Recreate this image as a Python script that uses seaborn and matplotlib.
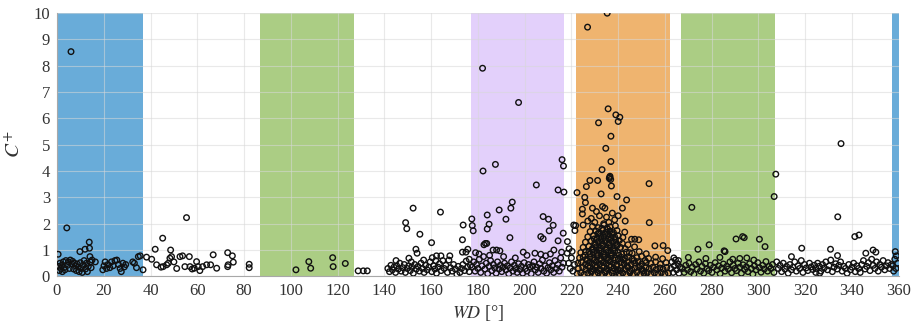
import pandas as pd
import matplotlib
import matplotlib.pyplot as plt
import seaborn as sns

matplotlib.use("Agg")

# wind-direction sectors (deg) and their shading
sector_bounds = [(0, 37), (87, 127), (177, 217), (222, 262), (267, 307), (357, 360)]
sector_colors = ["#69acd9", "#abcd84", "#e3d0fb", "#efb46f", "#abcd84", "#69acd9"]

# (WD, C+), grouped by direction range
pts_000_037 = [
    (0.5, 0.84), (0.7, 0.38), (1.0, 0.22), (1.3, 0.5), (1.7, 0.3), (2.0, 0.42), (2.3, 0.18),
    (2.7, 0.55), (3.0, 0.33), (3.4, 0.25), (3.8, 0.6), (4.2, 1.84), (4.5, 0.42), (4.9, 0.55),
    (5.3, 0.3), (5.7, 0.62), (6.0, 8.53), (6.3, 0.48), (6.7, 0.57), (7.1, 0.28), (7.5, 0.5),
    (7.9, 0.4), (8.3, 0.22), (8.7, 0.47), (9.1, 0.36), (9.5, 0.18), (9.8, 0.94), (10.0, 0.52),
    (10.4, 0.3), (10.8, 0.15), (11.2, 0.42), (11.6, 0.6), (12.0, 1.03), (12.2, 0.28), (12.6, 0.5),
    (13.0, 0.18), (13.4, 0.38), (13.8, 1.30), (13.9, 1.07), (14.1, 0.75), (14.3, 0.55), (14.6, 0.33),
    (15.0, 0.62), (16.4, 0.55), (19.6, 0.25), (20.1, 0.4), (20.6, 0.55), (21.2, 0.3), (21.8, 0.45),
    (22.6, 0.33), (23.3, 0.55), (24.0, 0.4), (24.8, 0.6), (25.6, 0.62), (26.3, 0.45), (27.0, 0.3),
    (27.5, 0.18), (28.2, 0.5), (28.8, 0.36), (29.4, 0.45), (32.4, 0.55), (33.1, 0.5), (34.0, 0.33),
    (34.8, 0.75), (35.6, 0.78), (36.8, 0.25),
]
pts_037_087 = [
    (38.3, 0.73), (40.5, 0.65), (42.0, 1.03), (42.6, 0.44), (44.5, 0.35), (45.2, 1.45), (45.4, 0.37),
    (46.9, 0.44), (47.6, 0.5), (48.3, 0.69), (48.6, 1.0), (49.0, 0.75), (50.0, 0.55), (51.2, 0.3),
    (52.6, 0.75), (53.7, 0.78), (54.7, 0.37), (55.4, 2.23), (56.6, 0.75), (56.9, 0.37), (57.8, 0.28),
    (58.7, 0.31), (59.7, 0.56), (60.4, 0.37), (61.1, 0.22), (62.3, 0.37), (64.0, 0.44), (65.7, 0.44),
    (66.8, 0.82), (68.3, 0.31), (73.0, 0.9), (73.0, 0.37), (73.2, 0.44), (75.0, 0.78), (75.4, 0.54),
    (82.2, 0.46), (82.2, 0.33),
]
pts_087_140 = [
    (102.2, 0.25), (107.7, 0.56), (108.5, 0.31), (117.9, 0.71), (118.1, 0.37), (123.3, 0.49),
    (128.8, 0.21), (131.0, 0.21), (132.7, 0.21),
]
pts_140_177 = [
    (149.1, 2.04), (149.6, 1.81), (150.5, 0.69), (152.3, 2.59), (153.5, 1.03), (154.0, 0.88),
    (155.2, 1.6), (160.2, 1.28), (160.5, 0.71), (162.3, 0.78), (164.0, 2.44), (164.2, 0.78),
    (168.0, 0.78), (173.4, 0.92), (174.9, 0.92), (175.7, 1.03), (173.4, 1.39), (173.7, 1.95),
    (176.3, 0.65),
    (141.5, 0.3), (142.2, 0.18), (142.8, 0.42), (143.5, 0.25), (144.1, 0.35), (144.8, 0.15),
    (145.0, 0.6), (145.3, 0.4), (146.0, 0.28), (146.6, 0.5), (147.2, 0.2), (147.9, 0.33),
    (148.5, 0.45), (149.0, 0.15), (149.8, 0.3), (150.4, 0.4), (151.1, 0.22), (151.5, 0.55),
    (151.8, 0.35), (152.4, 0.12), (153.0, 0.45), (153.7, 0.28), (154.4, 0.38), (155.0, 0.2),
    (155.7, 0.5), (156.3, 0.3), (156.8, 0.62), (157.0, 0.15), (157.6, 0.42), (158.3, 0.25),
    (159.0, 0.35), (159.6, 0.55), (160.3, 0.18), (161.0, 0.4), (161.6, 0.28), (162.0, 0.6),
    (162.3, 0.12), (163.0, 0.35), (163.6, 0.48), (164.3, 0.22), (165.0, 0.6), (165.6, 0.3),
    (166.3, 0.42), (167.0, 0.15), (167.6, 0.62), (168.3, 0.33), (169.0, 0.2), (169.6, 0.45),
    (170.3, 0.28), (171.0, 0.08), (171.6, 0.38), (172.3, 0.15), (173.0, 0.3), (173.6, 0.45),
    (174.3, 0.22), (175.0, 0.58), (175.6, 0.35), (176.3, 0.18), (176.8, 0.42),
]
pts_177_222 = [
    (182.0, 7.9), (197.4, 6.6), (182.2, 4.0), (187.5, 4.25), (205.0, 3.47), (214.3, 3.28),
    (216.0, 4.43), (216.6, 4.19), (216.8, 3.2), (194.7, 2.82), (194.1, 2.59), (189.1, 2.52),
    (184.0, 2.33), (192.0, 2.17), (184.8, 1.98), (184.0, 1.8), (177.4, 2.18), (177.6, 1.93),
    (178.0, 1.73), (193.7, 1.47), (207.9, 2.27), (210.2, 2.17), (212.2, 1.94), (210.5, 1.73),
    (206.9, 1.51), (207.9, 1.43), (214.3, 1.35), (216.5, 1.64), (182.6, 1.2), (183.2, 1.25),
    (183.8, 1.25), (186.5, 1.0), (188.0, 1.0), (189.4, 0.97), (199.4, 0.92), (204.4, 0.88),
    (206.9, 0.84), (212.5, 1.0), (215.8, 0.92),
    (179.0, 0.9), (180.5, 0.85), (185.0, 0.8), (191.0, 0.75), (196.0, 0.7), (201.0, 0.8),
    (209.0, 0.78), (211.0, 0.85),
    (177.5, 0.35), (178.2, 0.55), (178.8, 0.2), (179.4, 0.45), (180.0, 0.3), (180.6, 0.65),
    (181.2, 0.15), (181.8, 0.4), (182.4, 0.75), (183.0, 0.28), (183.6, 0.5), (184.2, 0.1),
    (184.8, 0.38), (185.4, 0.6), (186.0, 0.22), (186.6, 0.45), (187.2, 0.32), (187.8, 0.12),
    (188.4, 0.55), (189.0, 0.28), (189.6, 0.42), (190.2, 0.18), (190.8, 0.35), (191.4, 0.5),
    (192.0, 0.25), (192.6, 0.4), (193.2, 0.1), (193.8, 0.32), (194.4, 0.55), (195.0, 0.2),
    (195.6, 0.42), (196.2, 0.3), (196.8, 0.15), (197.4, 0.48), (198.0, 0.26), (198.6, 0.38),
    (199.2, 0.12), (199.8, 0.52), (200.4, 0.3), (201.0, 0.2), (201.6, 0.45), (202.2, 0.35),
    (202.8, 0.1), (203.4, 0.4), (204.0, 0.55), (204.6, 0.25), (205.2, 0.35), (205.8, 0.15),
    (206.4, 0.48), (207.0, 0.3), (207.6, 0.62), (208.2, 0.2), (208.8, 0.4), (209.4, 0.12),
    (210.0, 0.33), (210.6, 0.52), (211.2, 0.25), (211.8, 0.4), (212.4, 0.15), (213.0, 0.6),
    (213.6, 0.3), (214.2, 0.45), (214.8, 0.2), (215.4, 0.7), (216.0, 0.35), (216.6, 0.5),
    (218.3, 1.32), (218.2, 0.88), (218.8, 0.5), (219.5, 0.3), (220.0, 0.7), (220.6, 0.2),
    (221.0, 1.95), (221.3, 0.45), (221.5, 1.74), (219.0, 1.05), (220.3, 0.95),
]
pts_222_267 = [
    (235.3, 9.99), (226.9, 9.46), (235.7, 6.36), (239.0, 6.13), (240.7, 6.04), (240.0, 5.88),
    (231.6, 5.83), (236.9, 5.32), (234.7, 4.86), (236.9, 4.36), (233.1, 4.05), (236.2, 3.72),
    (236.5, 3.8), (236.8, 3.68), (236.4, 3.76), (237.1, 3.43), (227.9, 3.64), (231.2, 3.64),
    (226.4, 3.41), (253.2, 3.52), (222.4, 3.18), (232.7, 3.13), (225.7, 3.0), (239.5, 3.03),
    (243.6, 2.9), (241.8, 2.59), (224.7, 2.55), (224.7, 2.37), (229.0, 2.59), (230.7, 2.46),
    (233.3, 2.65), (234.3, 2.59), (253.3, 2.04), (221.8, 1.93),
    (226.0, 2.8), (228.5, 2.2), (232.0, 2.3), (235.0, 2.25), (237.5, 2.4), (238.5, 2.15),
    (240.0, 2.3), (243.0, 2.1), (230.0, 2.05), (233.8, 2.0), (236.0, 2.05), (227.0, 2.1),
    (225.0, 1.95),
    (229.0, 1.9), (231.5, 1.85), (234.0, 1.95), (236.5, 1.88), (238.8, 1.92),
    (228.0, 1.7), (230.5, 1.72), (232.0, 1.65), (233.5, 1.75), (235.0, 1.68), (236.5, 1.72),
    (238.0, 1.66), (239.5, 1.74),
    (227.0, 1.5), (229.5, 1.55), (231.0, 1.45), (232.5, 1.52), (234.0, 1.48), (235.5, 1.55),
    (237.0, 1.46), (238.5, 1.5), (240.0, 1.54), (242.0, 1.48),
    (226.0, 1.3), (228.5, 1.34), (230.0, 1.26), (231.5, 1.32), (233.0, 1.28), (234.5, 1.35),
    (236.0, 1.27), (237.5, 1.33), (239.0, 1.29), (240.5, 1.36), (242.8, 1.68), (245.7, 1.41),
    (247.1, 1.41), (248.8, 1.39),
    (225.0, 1.1), (227.5, 1.14), (229.0, 1.06), (230.5, 1.12), (232.0, 1.08), (233.5, 1.15),
    (235.0, 1.07), (236.5, 1.13), (238.0, 1.09), (239.5, 1.16), (241.0, 1.1), (243.0, 1.05),
    (247.0, 1.12), (255.7, 1.16), (259.2, 1.17), (261.2, 0.98),
    (224.0, 0.9), (226.0, 0.94), (228.0, 0.86), (229.5, 0.92), (231.0, 0.88), (232.5, 0.95),
    (234.0, 0.87), (235.5, 0.93), (237.0, 0.89), (238.5, 0.96), (240.0, 0.9), (241.5, 0.85),
    (243.5, 0.92), (246.0, 0.88), (249.0, 0.94), (252.0, 0.86),
    (223.5, 0.7), (225.0, 0.74), (226.5, 0.66), (228.0, 0.72), (229.5, 0.68), (231.0, 0.75),
    (232.5, 0.67), (234.0, 0.73), (235.5, 0.69), (237.0, 0.76), (238.5, 0.7), (240.0, 0.65),
    (241.5, 0.72), (243.0, 0.68), (244.5, 0.74), (246.0, 0.66), (248.0, 0.71), (250.0, 0.76),
    (253.0, 0.68), (256.0, 0.73), (259.0, 0.67),
    (222.8, 0.5), (224.3, 0.54), (226.0, 0.46), (227.5, 0.52), (229.0, 0.48), (230.5, 0.55),
    (232.0, 0.47), (233.5, 0.53), (235.0, 0.49), (236.5, 0.56), (238.0, 0.5), (239.5, 0.45),
    (241.0, 0.52), (242.5, 0.48), (244.0, 0.54), (245.5, 0.46), (247.0, 0.51), (248.5, 0.56),
    (250.0, 0.47), (252.0, 0.53), (254.0, 0.49), (256.0, 0.55), (258.0, 0.46), (260.5, 0.52),
    (223.0, 0.3), (224.8, 0.34), (226.2, 0.26), (227.8, 0.32), (229.2, 0.28), (230.8, 0.35),
    (232.2, 0.27), (233.8, 0.33), (235.2, 0.29), (236.8, 0.36), (238.2, 0.3), (239.8, 0.25),
    (241.2, 0.32), (242.8, 0.28), (244.2, 0.34), (245.8, 0.26), (247.2, 0.31), (248.8, 0.36),
    (250.2, 0.27), (251.8, 0.33), (253.2, 0.29), (254.8, 0.35), (256.2, 0.26), (257.8, 0.32),
    (259.2, 0.28), (260.8, 0.34),
    (222.5, 0.1), (224.0, 0.14), (225.5, 0.08), (227.0, 0.12), (228.5, 0.16), (230.0, 0.09),
    (231.5, 0.13), (233.0, 0.1), (234.5, 0.15), (236.0, 0.08), (237.5, 0.12), (239.0, 0.16),
    (240.5, 0.1), (242.0, 0.13), (243.5, 0.07), (245.0, 0.14), (246.5, 0.1), (248.0, 0.16),
    (249.5, 0.09), (251.0, 0.12), (252.5, 0.15), (254.0, 0.08), (255.5, 0.13), (257.0, 0.1),
    (258.5, 0.15), (260.0, 0.09), (261.5, 0.12),
    # extra fill of the densest core (228-242 deg)
    (228.7, 0.2), (230.2, 0.42), (231.8, 0.22), (233.2, 0.4), (234.8, 0.21), (236.2, 0.43),
    (237.8, 0.2), (239.2, 0.41), (240.8, 0.22), (229.8, 0.62), (231.3, 0.82), (232.8, 0.6),
    (234.3, 0.8), (235.8, 0.61), (237.3, 0.83), (238.8, 0.62), (240.3, 0.8), (228.8, 1.0),
    (230.3, 1.2), (231.8, 1.0), (233.3, 1.22), (234.8, 1.0), (236.3, 1.2), (237.8, 1.01),
    (239.3, 1.21), (229.8, 1.42), (231.3, 1.62), (232.8, 1.4), (234.3, 1.6), (235.8, 1.42),
    (237.3, 1.6), (238.8, 1.4), (233.0, 1.82), (235.5, 1.8), (226.8, 0.6), (225.8, 0.8),
    (227.2, 0.4), (242.2, 0.62), (243.8, 0.4), (244.8, 0.9), (245.2, 0.2), (246.8, 0.6),
    (249.5, 0.4), (251.5, 0.6), (250.8, 0.2), (244.2, 1.2), (227.5, 0.95), (241.8, 1.25),
    (262.5, 0.3), (263.0, 0.55), (263.5, 0.15), (264.0, 0.4), (264.5, 0.62), (265.0, 0.25),
    (265.5, 0.48), (266.0, 0.12), (266.5, 0.35), (263.8, 0.7), (265.8, 0.6),
]
pts_267_307 = [
    (271.5, 2.62), (307.4, 3.88), (306.7, 3.03), (290.4, 1.42), (293.2, 1.51), (293.9, 1.47),
    (300.4, 1.41), (302.8, 1.13), (278.9, 1.2), (274.1, 1.03), (285.7, 0.94), (285.3, 0.97),
    (270.0, 0.72), (277.5, 0.68), (283.5, 0.72), (289.0, 0.65), (292.0, 0.68), (295.0, 0.7),
    (298.0, 0.62),
    (267.5, 0.3), (268.2, 0.15), (268.9, 0.42), (269.6, 0.25), (270.3, 0.5), (271.0, 0.18),
    (271.7, 0.35), (272.4, 0.08), (273.1, 0.45), (273.8, 0.28), (274.5, 0.55), (275.2, 0.2),
    (275.9, 0.38), (276.6, 0.12), (277.3, 0.48), (278.0, 0.3), (278.7, 0.22), (279.4, 0.42),
    (280.1, 0.15), (280.8, 0.35), (281.5, 0.52), (282.2, 0.25), (282.9, 0.4), (283.6, 0.1),
    (284.3, 0.32), (285.0, 0.47), (285.7, 0.2), (286.4, 0.38), (287.1, 0.28), (287.8, 0.55),
    (288.5, 0.14), (289.2, 0.42), (289.9, 0.3), (290.6, 0.22), (291.3, 0.5), (292.0, 0.35),
    (292.7, 0.12), (293.4, 0.44), (294.1, 0.26), (294.8, 0.36), (295.5, 0.18), (296.2, 0.48),
    (296.9, 0.3), (297.6, 0.08), (298.3, 0.4), (299.0, 0.25), (299.7, 0.52), (300.4, 0.33),
    (301.1, 0.16), (301.8, 0.42), (302.5, 0.28), (303.2, 0.56), (303.9, 0.2), (304.6, 0.38),
    (305.3, 0.3), (306.0, 0.45), (306.6, 0.15),
]
pts_307_360 = [
    (335.3, 5.04), (333.9, 2.26), (341.2, 1.51), (343.0, 1.57), (318.5, 1.07), (330.8, 1.03),
    (333.8, 0.79), (345.9, 0.88), (349.0, 1.0), (350.2, 0.92), (314.1, 0.75), (324.5, 0.15),
    (326.2, 0.12),
    (307.8, 0.55), (308.5, 0.3), (309.2, 0.42), (309.9, 0.18), (310.6, 0.5), (311.3, 0.28),
    (312.0, 0.38), (312.7, 0.12), (313.4, 0.45), (314.1, 0.25), (314.8, 0.35), (315.5, 0.55),
    (316.2, 0.2), (316.9, 0.4), (317.6, 0.3), (318.3, 0.6), (319.0, 0.15), (319.7, 0.45),
    (320.4, 0.32), (321.1, 0.22), (321.8, 0.5), (322.5, 0.36), (323.2, 0.26), (323.9, 0.42),
    (324.6, 0.3), (325.3, 0.5), (326.0, 0.38), (326.7, 0.2), (327.4, 0.45), (328.1, 0.32),
    (328.8, 0.55), (329.5, 0.25), (330.2, 0.4), (330.9, 0.62), (331.6, 0.18), (332.3, 0.35),
    (333.0, 0.48), (333.7, 0.28), (334.4, 0.42), (335.1, 0.55), (335.8, 0.2), (336.5, 0.38),
    (337.2, 0.3), (337.9, 0.12), (338.6, 0.45), (339.3, 0.25), (340.0, 0.35), (340.7, 0.5),
    (341.4, 0.18), (342.1, 0.4), (342.8, 0.3), (343.5, 0.15), (344.2, 0.45), (344.9, 0.6),
    (345.6, 0.28), (346.3, 0.38), (347.0, 0.52), (347.7, 0.22), (348.4, 0.65), (349.1, 0.42),
    (349.8, 0.3), (350.5, 0.55), (351.2, 0.2), (351.9, 0.45), (352.6, 0.35), (353.3, 0.6),
    (354.0, 0.25), (354.7, 0.4), (355.4, 0.52), (356.1, 0.3), (356.8, 0.45),
    (358.5, 0.94), (359.0, 0.78), (358.3, 0.65), (357.5, 0.4), (358.8, 0.3), (359.5, 0.5),
    (357.8, 0.2),
]

x_ticks = list(range(0, 361, 20))
y_ticks = list(range(0, 11))

df = pd.DataFrame(
    pts_000_037 + pts_037_087 + pts_087_140 + pts_140_177
    + pts_177_222 + pts_222_267 + pts_267_307 + pts_307_360,
    columns=["wd", "cplus"],
)

sns.set_theme(style="white")
plt.rcParams["font.family"] = ["Liberation Serif", "DejaVu Serif"]
plt.rcParams["mathtext.fontset"] = "stix"

fig = plt.figure(figsize=(9.19, 3.31), dpi=100)
ax = fig.add_axes([0.062, 0.165, 0.916, 0.796])

for (lo, hi), c in zip(sector_bounds, sector_colors):
    ax.axvspan(lo, hi, color=c, lw=0, zorder=0)

sns.scatterplot(data=df, x="wd", y="cplus", ax=ax, marker="o", s=16,
                facecolor="none", edgecolor="#111111", linewidth=1.0, zorder=3)

ax.set_xlim(0, 360)
ax.set_ylim(0, 10)
ax.set_xticks(x_ticks)
ax.set_yticks(y_ticks)
ax.grid(True, color="#d8d8d8", lw=0.8, alpha=0.55)

for side in ["top", "right"]:
    ax.spines[side].set_visible(False)
for side in ["bottom", "left"]:
    ax.spines[side].set_color("#a8a8a8")
    ax.spines[side].set_linewidth(0.8)

ax.tick_params(direction="in", length=3, color="#a8a8a8", labelsize=12,
               labelcolor="#333333", pad=5)
ax.set_xlabel(r"$\mathit{WD}$ [°]", fontsize=13, color="#333333", labelpad=3)
ax.set_ylabel(r"$\mathit{C}^{+}$", fontsize=15, color="#333333", labelpad=6)

fig.savefig("out.png", dpi=100)
plt.close(fig)
